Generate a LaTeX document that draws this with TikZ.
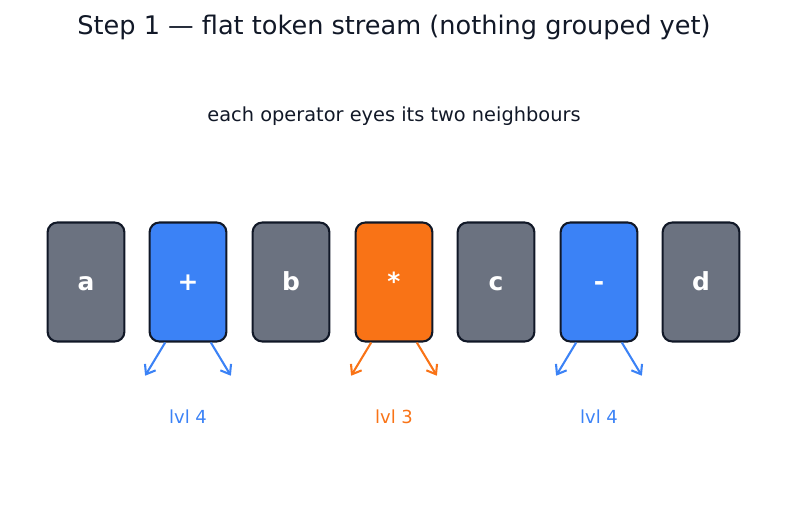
\documentclass[tikz,border=0pt]{standalone}
\usepackage{fontspec}
\setmainfont{DejaVu Sans}
\usepackage{xcolor}
\usetikzlibrary{positioning,arrows.meta}
\definecolor{operand}{HTML}{6B7280}
\definecolor{lowop}{HTML}{3B82F6}
\definecolor{highop}{HTML}{F97316}
\definecolor{ink}{HTML}{111827}

\begin{document}
\begin{tikzpicture}[x=0.0254cm, y=-0.0254cm,
    token/.style={draw=ink, line width=1.5pt, rounded corners=7pt, minimum width=55.5pt, minimum height=86pt, inner sep=1pt, text=white, text height=12pt, text depth=0pt, font=\fontsize{18}{21}\selectfont\bfseries},
    operand/.style={token, fill=operand},
    lowtok/.style={token, fill=lowop},
    hightok/.style={token, fill=highop},
    eye/.style={-{Straight Barb[length=6pt,width=9pt]}, line width=1.5pt}]
  \useasboundingbox (0,0) rectangle (787,512);

  % titles
  \node[ink, font=\fontsize{18.5}{22}\selectfont] (title) at (394,27) {Step 1 — flat token stream (nothing grouped yet)};
  \node[ink, font=\fontsize{14}{17}\selectfont] (sub) at (394,116) {each operator eyes its two neighbours};

  % the flat stream of tokens
  \node[operand] (a) at (86,282) {a};
  \node[lowtok] (plus) at (188,282) {+};
  \node[operand] (b) at (291,282) {b};
  \node[hightok] (times) at (394,282) {*};
  \node[operand] (c) at (496,282) {c};
  \node[lowtok] (minus) at (599,282) {-};
  \node[operand] (d) at (701,282) {d};

  % operators look left and right
  \coordinate (plusL) at ([xshift=-31pt,yshift=-24pt]plus.south);
  \coordinate (plusR) at ([xshift=31pt,yshift=-24pt]plus.south);
  \draw[eye, lowop] ([xshift=-16.5pt]plus.south) -- (plusL);
  \draw[eye, lowop] ([xshift=16.5pt]plus.south) -- (plusR);
  \coordinate (timesL) at ([xshift=-31pt,yshift=-24pt]times.south);
  \coordinate (timesR) at ([xshift=31pt,yshift=-24pt]times.south);
  \draw[eye, highop] ([xshift=-16.5pt]times.south) -- (timesL);
  \draw[eye, highop] ([xshift=16.5pt]times.south) -- (timesR);
  \coordinate (minusL) at ([xshift=-31pt,yshift=-24pt]minus.south);
  \coordinate (minusR) at ([xshift=31pt,yshift=-24pt]minus.south);
  \draw[eye, lowop] ([xshift=-16.5pt]minus.south) -- (minusL);
  \draw[eye, lowop] ([xshift=16.5pt]minus.south) -- (minusR);

  % binding levels
  \node[lowop, font=\fontsize{13}{15}\selectfont] (lvlplus) at (188,417) {lvl 4};
  \node[highop, font=\fontsize{13}{15}\selectfont] (lvltimes) at (394,417) {lvl 3};
  \node[lowop, font=\fontsize{13}{15}\selectfont] (lvlminus) at (599,417) {lvl 4};
\end{tikzpicture}
\end{document}
